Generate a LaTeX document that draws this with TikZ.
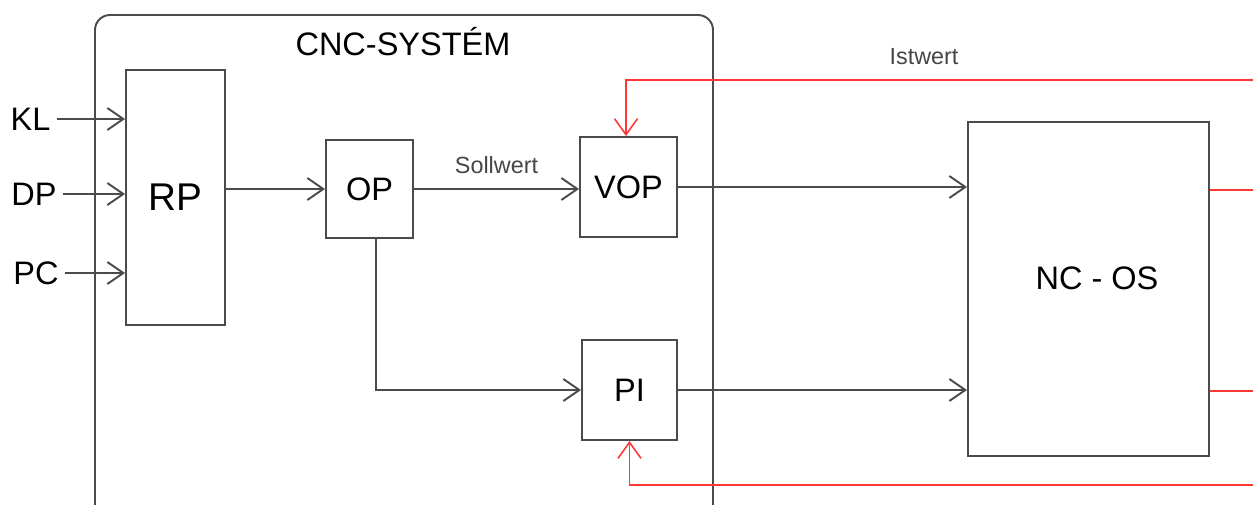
\documentclass[tikz,border=0pt]{standalone}
\usepackage{fontspec}
\setmainfont{Liberation Sans}
\usetikzlibrary{arrows.meta}
\definecolor{ink}{RGB}{75,75,75}
\definecolor{fback}{RGB}{255,55,55}
\definecolor{note}{RGB}{70,70,70}

\begin{document}
\begin{tikzpicture}[x=0.2mm, y=-0.2mm, line width=1.1pt,
  blok/.style={draw=ink, line width=1.1pt, inner sep=0pt, font=\fontsize{18.5}{22}\selectfont},
  lbl/.style={font=\fontsize{18.5}{22}\selectfont},
  tag/.style={text=note, font=\fontsize{13.3}{16}\selectfont},
  sig/.style={draw=ink, -{Straight Barb[length=3.2mm,width=4.4mm]}},
  ist/.style={draw=fback, line width=0.9pt, -{Straight Barb[length=3.2mm,width=4.6mm]}}]
  \useasboundingbox (0,0) rectangle (1253,504);
  \clip (0,0) rectangle (1253,504);
  % CNC system frame
  \draw[ink, rounded corners=3mm] (95,15) rectangle (713,520);
  \node[lbl] (cnc) at (403,42) {CNC-SYSTÉM};
  % blocks
  \node[blok, minimum width=19.8mm, minimum height=51mm, font=\fontsize{22}{26}\selectfont] (rp) at (175.5,197.5) {RP};
  \node[blok, minimum width=17.4mm, minimum height=19.6mm] (op) at (369.5,189) {OP};
  \node[blok, minimum width=19.4mm, minimum height=20mm] (vop) at (628.5,187) {VOP};
  \node[blok, minimum width=19mm, minimum height=20mm] (pi) at (629.5,390) {PI};
  \node[blok, minimum width=48.2mm, minimum height=66.8mm] (ncos) at (1088.5,289) {};
  \node[lbl] (ncoslbl) at (1097,278) {NC - OS};
  % inputs
  \node[lbl] (kl) at (30.5,119) {KL};
  \node[lbl] (dp) at (34,194) {DP};
  \node[lbl] (pc) at (36,273) {PC};
  \draw[sig] (kl.east) -- (kl.east -| rp.west);
  \draw[sig] (dp.east) -- (dp.east -| rp.west);
  \draw[sig] (pc.east) -- (pc.east -| rp.west);
  % signal path
  \draw[sig] (op.west -| rp.east) -- (op.west);
  \draw[sig] (op.east) -- (op.east -| vop.west) node[tag, midway, above=5pt] (soll) {Sollwert};
  \draw[sig] ([xshift=1.3mm]op.south) |- (pi.west);
  \draw[sig] (vop.east) -- (vop.east -| ncos.west);
  \draw[sig] (pi.east) -- (pi.east -| ncos.west);
  % feedback
  \coordinate (fbtop) at (1253,80);
  \coordinate (fbbot) at (1253,485);
  \coordinate (out1) at (1253,190);
  \coordinate (out2) at (1253,391);
  \node[tag] (istw) at (924,57) {Istwert};
  \draw[ist] (fbtop) -| ([xshift=-0.5mm]vop.north);
  \draw[ist] (fbbot) -| (pi.south);
  \draw[fback, line width=0.9pt] (out1 -| ncos.east) -- (out1);
  \draw[fback, line width=0.9pt] (out2 -| ncos.east) -- (out2);
\end{tikzpicture}
\end{document}
